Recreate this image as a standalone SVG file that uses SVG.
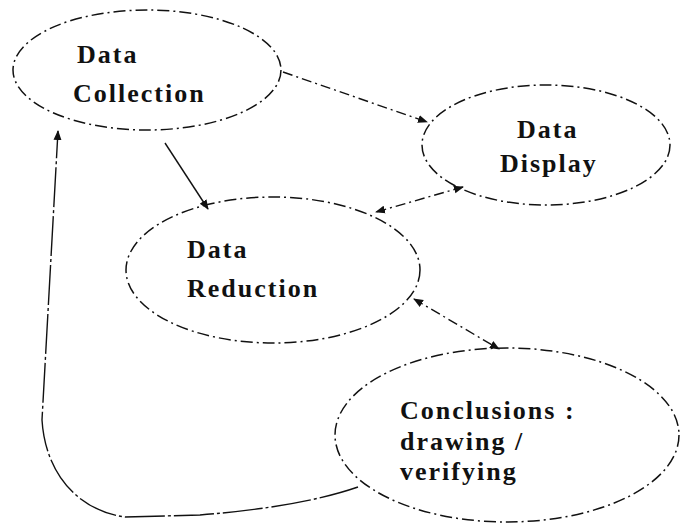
<svg xmlns="http://www.w3.org/2000/svg" width="681" height="526" viewBox="0 0 681 526">
<defs>
<style>
.node{fill:none;stroke:#111;stroke-width:1.5;stroke-dasharray:12 4 2 4}
.lbl{font-family:"Liberation Serif","Times New Roman",serif;font-weight:bold;font-size:26px;letter-spacing:2px;fill:#111}
.c{fill:none;stroke:#111;stroke-width:1.4}
.dd{stroke-dasharray:10 4 2 4}
.ld{stroke-dasharray:40 3 3 3}
</style>
<marker id="ah" viewBox="0 0 10 10" refX="9" refY="5" markerWidth="10" markerHeight="10" markerUnits="userSpaceOnUse" orient="auto-start-reverse">
<path d="M0,1 L10,5 L0,9 Z" fill="#111"/>
</marker>
</defs>
<rect width="681" height="526" fill="#fff"/>
<g id="data-collection">
<ellipse class="node" cx="147" cy="70" rx="134" ry="60"/>
<text class="lbl" x="77" y="63">Data</text>
<text class="lbl" x="73" y="102">Collection</text>
</g>
<g id="data-display">
<ellipse class="node" cx="546" cy="145" rx="124" ry="60"/>
<text class="lbl" x="517" y="138">Data</text>
<text class="lbl" x="500" y="172">Display</text>
</g>
<g id="data-reduction">
<ellipse class="node" cx="273" cy="270" rx="147" ry="73"/>
<text class="lbl" x="187" y="258">Data</text>
<text class="lbl" x="187" y="297">Reduction</text>
</g>
<g id="conclusions">
<ellipse class="node" cx="507" cy="435" rx="172" ry="87"/>
<text class="lbl" x="400" y="419">Conclusions :</text>
<text class="lbl" x="400" y="450">drawing /</text>
<text class="lbl" x="400" y="480">verifying</text>
</g>
<g id="connectors">
<line class="c dd" x1="283" y1="72" x2="427" y2="122" marker-end="url(#ah)"/>
<line class="c" x1="165" y1="143" x2="208" y2="209" marker-end="url(#ah)"/>
<line class="c dd" x1="463" y1="187" x2="376" y2="212" marker-start="url(#ah)" marker-end="url(#ah)"/>
<line class="c dd" x1="414" y1="299" x2="499" y2="349" marker-start="url(#ah)" marker-end="url(#ah)"/>
<path class="c ld" d="M358,487 Q300,507 200,515 L125,517 C75,510 45,470 42,420 L58,131" marker-end="url(#ah)"/>
</g>
</svg>
